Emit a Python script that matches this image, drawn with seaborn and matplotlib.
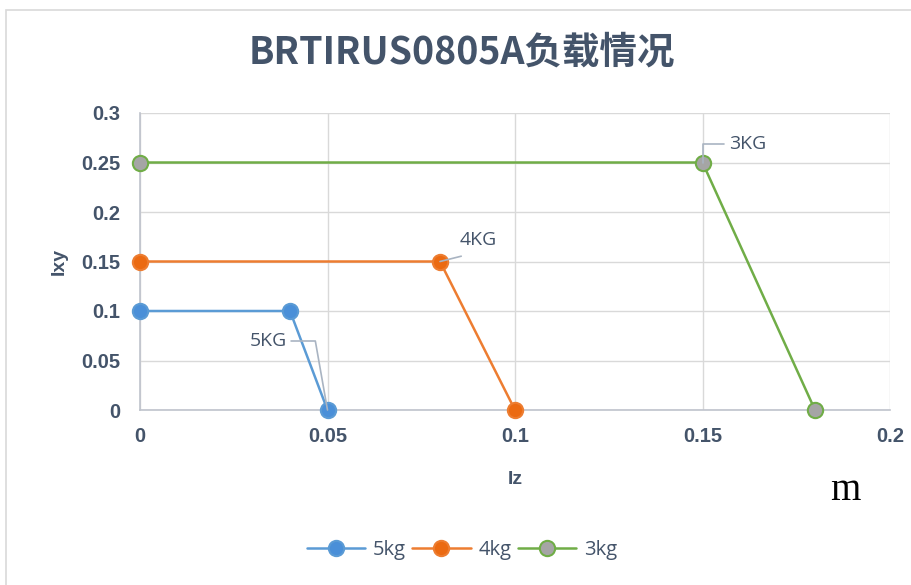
import pandas as pd
import numpy as np
import matplotlib
matplotlib.use("Agg")
import matplotlib.pyplot as plt
import seaborn as sns
from matplotlib.patches import Rectangle

sns.set_theme(style="white")
plt.rcParams['font.family'] = ['Open Sans', 'Noto Sans CJK SC', 'DejaVu Sans']

# data
loads = ["5kg", "4kg", "3kg"]
iz_5 = [0.0, 0.04, 0.05]
ixy_5 = [0.1, 0.1, 0.0]
iz_4 = [0.0, 0.08, 0.1]
ixy_4 = [0.15, 0.15, 0.0]
iz_3 = [0.0, 0.15, 0.18]
ixy_3 = [0.25, 0.25, 0.0]
labels = ["5KG", "4KG", "3KG"]

df = pd.concat([
    pd.DataFrame({"Iz": iz_5, "Ixy": ixy_5, "load": "5kg"}),
    pd.DataFrame({"Iz": iz_4, "Ixy": ixy_4, "load": "4kg"}),
    pd.DataFrame({"Iz": iz_3, "Ixy": ixy_3, "load": "3kg"}),
], ignore_index=True)

line_cols = {"5kg": "#5B9BD5", "4kg": "#ED7D31", "3kg": "#70AD47"}
face_cols = {"5kg": "#4A8FD8", "4kg": "#EB6A12", "3kg": "#A5A5A5"}
text_col = "#44546A"

fig = plt.figure(figsize=(9.11, 5.85), dpi=100)
ax = fig.add_axes([140/911, 1-410/585, 750/911, 297/585])

for ld in loads:
    sub = df[df["load"] == ld]
    sns.lineplot(data=sub, x="Iz", y="Ixy", ax=ax, sort=False, color=line_cols[ld],
                 linewidth=1.8, marker="o", markersize=11,
                 markerfacecolor=face_cols[ld], markeredgecolor=line_cols[ld],
                 markeredgewidth=1.5, label=ld, zorder=3, clip_on=False)

ax.set_xlim(0, 0.2)
ax.set_ylim(0, 0.3)
ax.set_xticks([0, 0.05, 0.1, 0.15, 0.2])
ax.set_xticklabels(["0", "0.05", "0.1", "0.15", "0.2"])
ax.set_yticks([0, 0.05, 0.1, 0.15, 0.2, 0.25, 0.3])
ax.set_yticklabels(["0", "0.05", "0.1", "0.15", "0.2", "0.25", "0.3"])
ax.grid(True, color="#D9D9D9", linewidth=1)
ax.set_axisbelow(True)
for s in ["top", "right"]:
    ax.spines[s].set_visible(False)
for s in ["left", "bottom"]:
    ax.spines[s].set_color("#BFC3CC")
    ax.spines[s].set_linewidth(1.2)
ax.tick_params(axis="both", length=0, labelsize=14.5, labelcolor=text_col, pad=14)
for t in ax.get_xticklabels() + ax.get_yticklabels():
    t.set_fontweight("bold")
    t.set_family(["Liberation Sans", "DejaVu Sans"])
ax.tick_params(axis="x", pad=12)

ax.set_xlabel("Iz", fontsize=14, fontweight="bold", color=text_col,
              family=["Liberation Sans"], labelpad=18)
ax.set_ylabel("Ixy", fontsize=14, fontweight="bold", color=text_col,
              family=["Liberation Sans"], labelpad=10)

fig.text(0.507, 1-52/585, "BRTIRUS0805A负载情况", ha="center", va="center",
         fontsize=27, fontweight="bold", color=text_col,
         family=["Noto Sans CJK SC", "DejaVu Sans"])

# data labels with leader lines (text positions in figure pixels from top)
lead = dict(arrowstyle="-", color="#A9B4C2", lw=1.2, shrinkA=0, shrinkB=0)
ax.annotate(labels[2], xy=(iz_3[1], ixy_3[1]), xytext=(748, 585 - 144), textcoords="figure pixels",
            fontsize=14, color=text_col, ha="center", va="center",
            arrowprops=dict(lead, connectionstyle="angle,angleA=0,angleB=90,rad=0", relpos=(-0.15, 0.5)))
ax.annotate(labels[1], xy=(iz_4[1], ixy_4[1]), xytext=(478, 585 - 240), textcoords="figure pixels",
            fontsize=14, color=text_col, ha="center", va="center",
            arrowprops=dict(lead, relpos=(0.05, -0.4)))
ax.annotate(labels[0], xy=(iz_5[2], ixy_5[2]), xytext=(268, 585 - 341), textcoords="figure pixels",
            fontsize=14, color=text_col, ha="center", va="center",
            arrowprops=dict(lead, connectionstyle="angle,angleA=0,angleB=100,rad=0", relpos=(1.12, 0.5)))

fig.text(845/911, 1-490/585, "m", fontsize=28, color="black", ha="center", va="center",
         family=["Liberation Serif", "DejaVu Serif"])

leg = ax.legend(loc="center", bbox_to_anchor=(462/911, 1-550/585), bbox_transform=fig.transFigure,
                ncol=3, frameon=False, fontsize=14.5, handlelength=2.9, columnspacing=0.3,
                handletextpad=0.4)
for t in leg.get_texts():
    t.set_color(text_col)

fig.patches.append(Rectangle((6/911, -0.2), 2, 1.2 - 10/585, transform=fig.transFigure,
                             fill=False, edgecolor="#D9D9D9", linewidth=1.2))

fig.savefig("out.png", dpi=100)
